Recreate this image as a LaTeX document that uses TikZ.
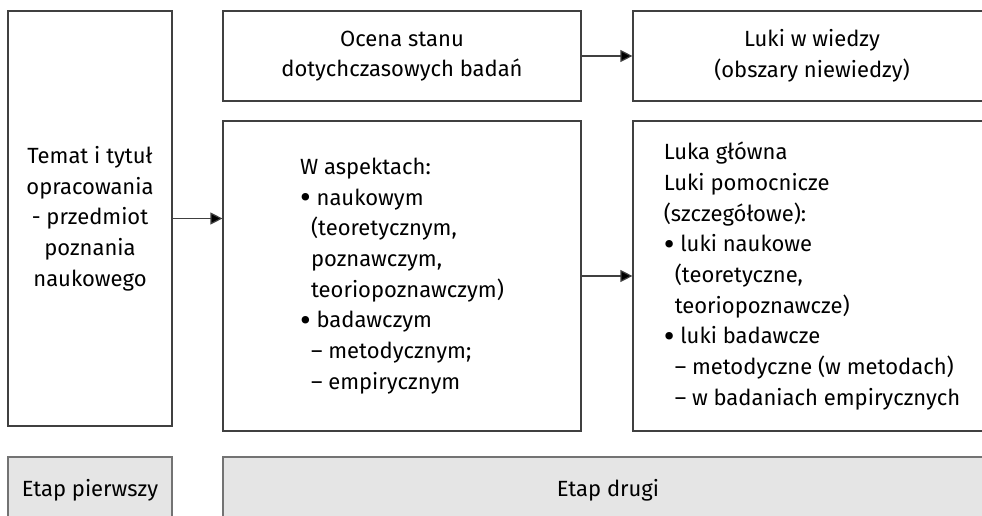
\documentclass[tikz,border=0pt]{standalone}
\usepackage{fontspec}
\setmainfont{Fira Sans}
\usetikzlibrary{arrows.meta}
\newcommand{\ind}{\hspace*{11pt}}
\newcommand{\blt}{\raisebox{-3.5pt}{\scalebox{1.5}{•}}}
\begin{document}
\begin{tikzpicture}[x=1pt,y=-1pt,
  box/.style={draw=black!75, line width=1.2pt, fill=white, inner sep=0pt,
    font=\fontsize{22}{30.7}\selectfont, align=center},
  listbox/.style={box, align=left},
  stagebox/.style={draw=black!55, line width=2pt, fill=black!10, inner sep=0pt,
    font=\fontsize{22}{30.7}\selectfont},
  arr/.style={line width=1.2pt, draw=black!75, -{Triangle[length=12pt,width=12pt,fill=black]}}]
\useasboundingbox (0,0) rectangle (982,516);
\clip (0,0) rectangle (982,516);

% first column: topic of the work
\node[box, minimum width=164pt, minimum height=415pt] (topic) at (90,218.5)
  {Temat i tytuł\\opracowania\\- przedmiot\\poznania\\naukowego};

% second column
\node[box, minimum width=358pt, minimum height=90pt] (ocena) at (402,56)
  {Ocena stanu\\dotychczasowych badań};
\node[listbox, minimum width=358pt, minimum height=310pt] (aspekty) at (402,276)
  {W aspektach:\\
   \blt{} naukowym\\
   \ind(teoretycznym,\\
   \ind poznawczym,\\
   \ind teoriopoznawczym)\\
   \blt{} badawczym\\
   \ind– metodycznym;\\
   \ind– empirycznym};

% third column
\node[box, minimum width=358pt, minimum height=90pt] (luki) at (812,56)
  {Luki w wiedzy\\(obszary niewiedzy)};
\node[listbox, minimum width=358pt, minimum height=310pt] (luka) at (812,276)
  {Luka główna\\
   Luki pomocnicze\\
   (szczegółowe):\\
   \blt{} luki naukowe\\
   \ind(teoretyczne,\\
   \ind teoriopoznawcze)\\
   \blt{} luki badawcze\\
   \ind– metodyczne (w metodach)\\
   \ind– w badaniach empirycznych};

% connectors
\draw[arr] (topic.east) -- (topic.east -| aspekty.west);
\draw[arr] (ocena.east) -- (luki.west);
\draw[arr] (aspekty.east) -- (luka.west);

% stage labels
\node[stagebox, minimum width=164pt, minimum height=66pt] (etap1) at (90,490) {Etap pierwszy};
\node[stagebox, minimum width=770pt, minimum height=66pt] (etap2) at (608,490) {Etap drugi};
\end{tikzpicture}
\end{document}
